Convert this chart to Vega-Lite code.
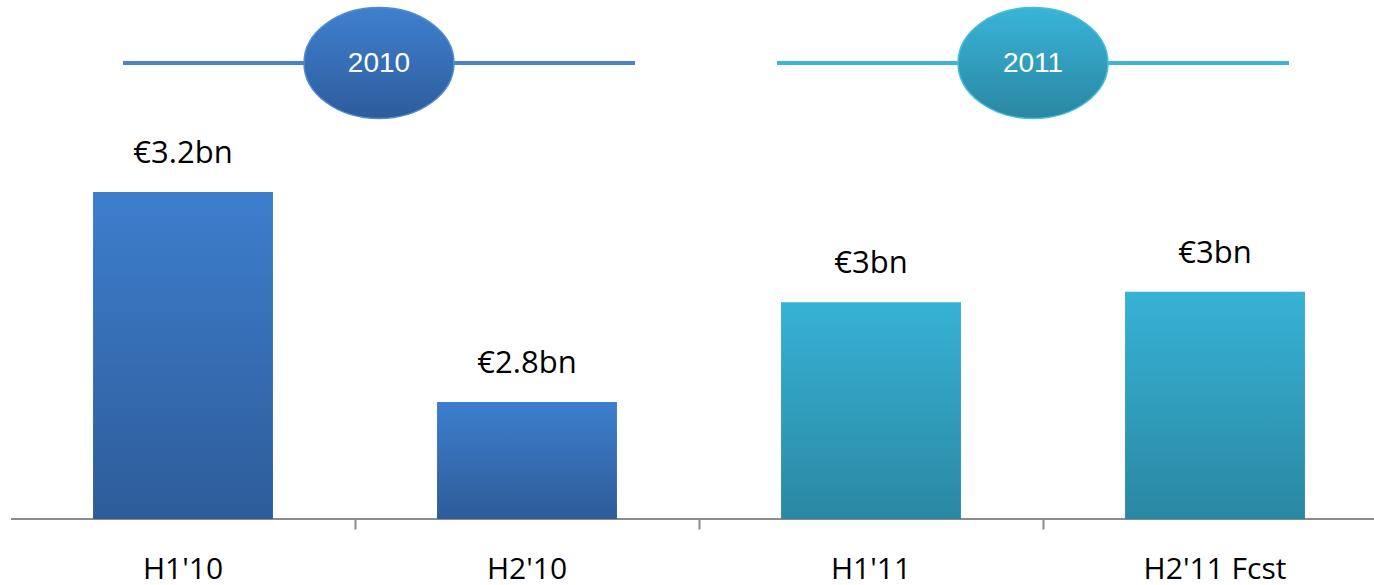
{
  "$schema": "https://vega.github.io/schema/vega-lite/v6.json",
  "background": "white",
  "padding": {"left": 10, "top": 0, "right": 0, "bottom": 0},
  "spacing": 11,
  "config": {"view": {"stroke": null}},
  "vconcat": [
    {
      "width": 1364,
      "height": 126,
      "data": {"values": [{"year": "2010"}, {"year": "2011"}]},
      "encoding": {
        "x": {
          "field": "year",
          "type": "nominal",
          "axis": null,
          "scale": {"paddingInner": 0, "paddingOuter": 0.0428, "align": 0.732}
        }
      },
      "layer": [
        {
          "mark": {"type": "tick", "orient": "horizontal", "size": 512, "thickness": 4, "opacity": 1},
          "encoding": {
            "color": {
              "condition": {"test": "datum.year === '2010'", "value": "#4c82c9"},
              "value": "#3fb5d5"
            }
          }
        },
        {
          "mark": {
            "type": "point",
            "shape": "M-1,0A1,0.74 0 1,1 1,0A1,0.74 0 1,1 -1,0Z",
            "size": 22500,
            "filled": true,
            "opacity": 1,
            "strokeWidth": 1.5
          },
          "encoding": {
            "fill": {
              "condition": {
                "test": "datum.year === '2010'",
                "value": {
                  "gradient": "linear", "x1": 0, "y1": 0, "x2": 0, "y2": 1,
                  "stops": [{"offset": 0, "color": "#3f80cf"}, {"offset": 1, "color": "#2d5c9b"}]
                }
              },
              "value": {
                "gradient": "linear", "x1": 0, "y1": 0, "x2": 0, "y2": 1,
                "stops": [{"offset": 0, "color": "#39b4d8"}, {"offset": 1, "color": "#2a87a2"}]
              }
            },
            "stroke": {
              "condition": {"test": "datum.year === '2010'", "value": "#4f8ad3"},
              "value": "#45bddc"
            }
          }
        },
        {
          "mark": {
            "type": "text",
            "font": "Liberation Sans",
            "fontSize": 28,
            "color": "white",
            "baseline": "middle",
            "dy": 1
          },
          "encoding": {"text": {"field": "year"}}
        }
      ]
    },
    {
      "width": 1364,
      "height": 378,
      "data": {
        "values": [
          {"period": "H1'10", "year": "2010", "value": 3.2, "label": "€3.2bn"},
          {"period": "H2'10", "year": "2010", "value": 2.8, "label": "€2.8bn"},
          {"period": "H1'11", "year": "2011", "value": 2.99, "label": "€3bn"},
          {"period": "H2'11 Fcst", "year": "2011", "value": 3.01, "label": "€3bn"}
        ]
      },
      "encoding": {
        "y": {
          "field": "value",
          "type": "quantitative",
          "axis": null,
          "scale": {"domain": [2.577, 3.297], "nice": false, "zero": false}
        }
      },
      "layer": [
        {
          "mark": {"type": "rule", "color": "#8c8c8c", "strokeWidth": 2},
          "encoding": {"y": {"datum": 2.577}}
        },
        {
          "mark": {"type": "bar", "width": {"band": 0.523}},
          "encoding": {
            "x": {
              "field": "period",
              "type": "nominal",
              "sort": null,
              "scale": {"range": [0, 1376], "paddingInner": 0, "paddingOuter": 0},
              "axis": {
                "orient": "bottom",
                "title": null,
                "labelFont": "Open Sans",
                "labelFontSize": 30,
                "labelColor": "#000000",
                "labelAngle": 0,
                "labelBaseline": "alphabetic",
                "labelPadding": 49,
                "labelFlush": false,
                "labelOverlap": false,
                "ticks": true,
                "tickSize": 10,
                "tickOpacity": 0,
                "domain": false
              }
            },
            "y2": {"datum": 2.577},
            "fill": {
              "condition": {
                "test": "datum.year === '2010'",
                "value": {
                  "gradient": "linear", "x1": 0, "y1": 0, "x2": 0, "y2": 1,
                  "stops": [{"offset": 0, "color": "#3d7ecd"}, {"offset": 1, "color": "#2e5c99"}]
                }
              },
              "value": {
                "gradient": "linear", "x1": 0, "y1": 0, "x2": 0, "y2": 1,
                "stops": [{"offset": 0, "color": "#37b2d5"}, {"offset": 1, "color": "#2a88a3"}]
              }
            }
          }
        },
        {
          "mark": {
            "type": "text",
            "font": "Open Sans",
            "fontSize": 31,
            "baseline": "alphabetic",
            "dy": -29,
            "color": "#000000"
          },
          "encoding": {
            "x": {
              "field": "period",
              "type": "nominal",
              "sort": null,
              "axis": {
                "orient": "bottom",
                "title": null,
                "values": ["H1'10", "H2'10", "H1'11"],
                "labels": false,
                "domain": false,
                "ticks": true,
                "tickSize": 10,
                "tickColor": "#8c8c8c",
                "tickWidth": 2,
                "bandPosition": 1,
                "tickExtra": false
              }
            },
            "text": {"field": "label"}
          }
        }
      ],
      "resolve": {"axis": {"x": "independent"}}
    }
  ]
}
